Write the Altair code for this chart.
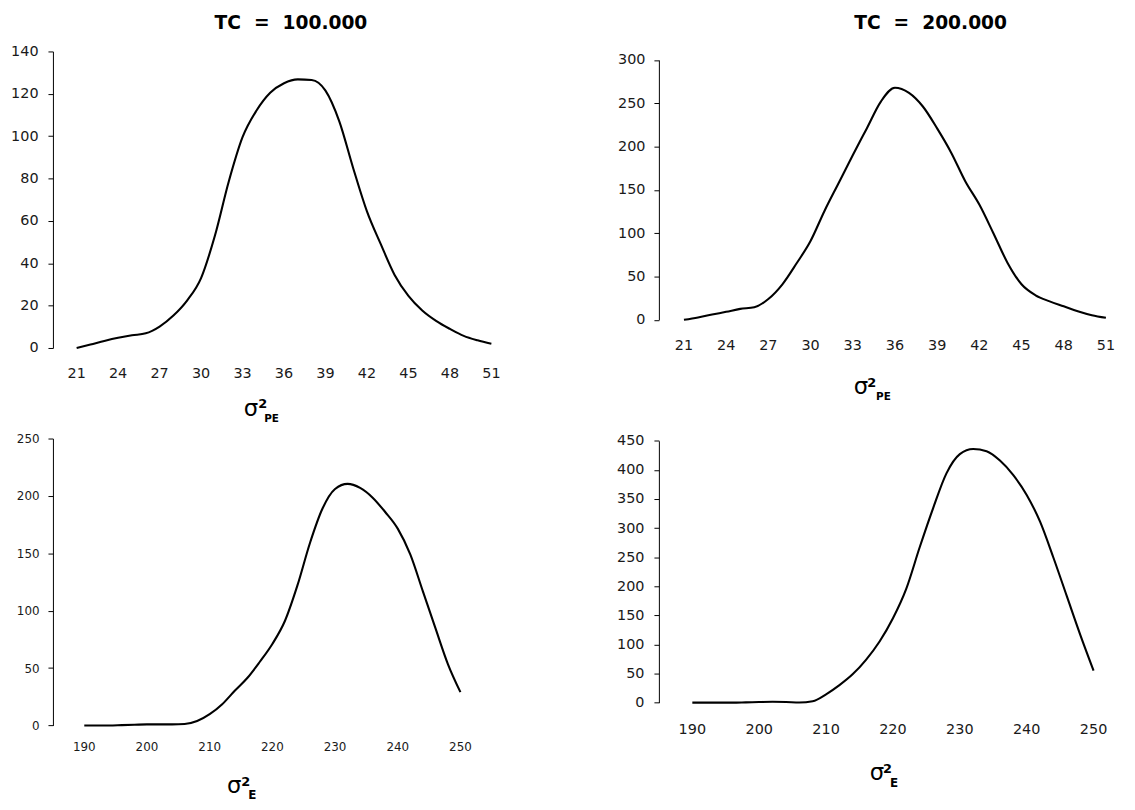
import altair as alt
import pandas as pd

FONT = "DejaVu Sans"

# ---------------- data ----------------
PE_X = list(range(21, 52))
TL_Y = [0, 1.6, 3.3, 4.8, 6.0, 6.9, 10.1, 15.3, 22.5, 33, 53, 78.5, 99.5, 112, 120.5,
        125, 126.8, 126.5, 121.5, 107, 85, 64.5, 49, 34.5, 24.6, 17.7, 12.8, 9, 5.7, 3.6, 2]
TR_Y = [0, 2.7, 6.1, 9.2, 12.6, 14.5, 24, 41, 65, 91, 126, 158, 190, 221, 252,
        268, 262, 246, 221, 193, 160, 133, 100, 66, 41, 28.3, 21.3, 15.6, 9.9, 5.3, 2.3]

E_X = list(range(190, 251, 2))
BL_Y = [0, 0, 0, 0.3, 0.6, 0.9, 0.9, 0.9, 1.2, 3.8, 9.8, 18.5, 30.2, 41.3, 55.5, 71,
        91, 122, 159, 189, 206, 210.5, 207, 198.5, 186, 171.5, 149, 117, 85, 53.5, 29]
BR_Y = [0, 0, 0, 0, 0.5, 1.1, 1.5, 1.1, 0.2, 2.5, 14.3, 30, 49, 74, 105, 145,
        196, 267, 334, 394, 427, 436, 432, 416, 391, 357, 311, 249, 183, 117, 55]

PE_LABELS = list(range(21, 52, 3))
PE_TICKS = [19.5 + 3 * i for i in range(12)]
E_LABELS = list(range(190, 251, 10))
E_TICKS = [185 + 10 * i for i in range(8)]

TL_YTICKS = list(range(0, 141, 20))
TR_YTICKS = list(range(0, 301, 50))
BL_YTICKS = list(range(0, 251, 50))
BR_YTICKS = list(range(0, 451, 50))

TITLE_1 = "TC\u00a0\u00a0=\u00a0\u00a0100.000"
TITLE_2 = "TC\u00a0\u00a0=\u00a0\u00a0200.000"


def text_layer(txt, x, y, size, weight="normal"):
    return alt.Chart(alt.Data(values=[{"k": 0}])).mark_text(
        text=txt, font=FONT, fontSize=size, fontWeight=weight,
        align="left", baseline="alphabetic", color="black"
    ).encode(x=alt.value(x), y=alt.value(y))


def panel(xs, ys, xdom, xrng, xticks, xlabels, ydom, yrng, yticks,
          w, h, fs, label_y, ypad, texts):
    df = pd.DataFrame({"x": xs, "y": ys})
    xscale = alt.Scale(domain=xdom, range=xrng, nice=False, zero=False)
    yscale = alt.Scale(domain=ydom, range=yrng, nice=False, zero=False)
    line = alt.Chart(df).mark_line(
        color="black", strokeWidth=2.1, interpolate="monotone"
    ).encode(
        x=alt.X("x:Q", scale=xscale,
                axis=alt.Axis(values=xticks, labels=False, title=None, grid=False,
                              tickSize=6, domainColor="black", tickColor="black",
                              domainWidth=1, tickWidth=1)),
        y=alt.Y("y:Q", scale=yscale,
                axis=alt.Axis(values=yticks, title=None, grid=False, tickSize=5,
                              labelPadding=ypad, labelFont=FONT, labelFontSize=fs,
                              labelColor="#1a1a1a", domainColor="black",
                              tickColor="black", domainWidth=1, tickWidth=1,
                              labelOverlap=False, labelFlush=False, format="d")),
    )
    labs = alt.Chart(pd.DataFrame({"v": xlabels})).mark_text(
        font=FONT, fontSize=fs, align="center", baseline="alphabetic",
        color="#1a1a1a"
    ).encode(
        x=alt.X("v:Q", scale=xscale, axis=None),
        y=alt.value(label_y),
        text=alt.Text("v:Q", format="d"),
    )
    layers = [line, labs] + [text_layer(*t) for t in texts]
    return alt.layer(*layers).properties(width=w, height=h)


# panel origins (page px): left column x=50, right column x=661;
# top row y=48.7, bottom row y=439
tl = panel(PE_X, TL_Y, [19.5, 52.5], [3, 463], PE_TICKS, PE_LABELS,
           [0, 140], [299, 0], TL_YTICKS, 463, 299, 14.5, 329.6, 10,
           [(TITLE_1, 163, -22.7, 18.8, "bold"),
            ("σ", 192.5, 367.8, 23),
            ("2", 207, 359.3, 13, "bold"),
            ("PE", 213, 373.3, 10.5, "bold")])

tr = panel(PE_X, TR_Y, [19.5, 52.5], [4, 472], PE_TICKS, PE_LABELS,
           [0, 300], [270.6, 8.6], TR_YTICKS, 472, 270.6, 14.5, 300.6, 9,
           [(TITLE_2, 197, -22.7, 18.8, "bold"),
            ("σ", 196.5, 345.3, 23),
            ("2", 210, 338.3, 13, "bold"),
            ("PE", 219, 351.3, 10.5, "bold")])

bl = panel(E_X, BL_Y, [185, 255], [0, 442.5], E_TICKS, E_LABELS,
           [0, 250], [289.3, 0], BL_YTICKS, 442.5, 289.3, 12, 315, 9,
           [("σ", 175.5, 357, 23),
            ("2", 190, 350, 13, "bold"),
            ("E", 197, 363, 12, "bold")])

br = panel(E_X, BR_Y, [185, 255], [0, 472], E_TICKS, E_LABELS,
           [0, 450], [266.3, 2.3], BR_YTICKS, 472, 266.3, 14.5, 297.7, 10,
           [("σ", 212.5, 344, 23),
            ("2", 226, 337, 13, "bold"),
            ("E", 233, 351, 12, "bold")])

chart = alt.concat(
    tl, tr, bl, br, columns=2, bounds="flush",
    spacing={"row": 91.3, "column": 148},
).properties(
    padding={"left": 2.3, "top": 2.5, "right": 0, "bottom": -1.5}
).configure_view(strokeWidth=0)

chart.save("out.html", embed_options={"renderer": "svg", "actions": False})
